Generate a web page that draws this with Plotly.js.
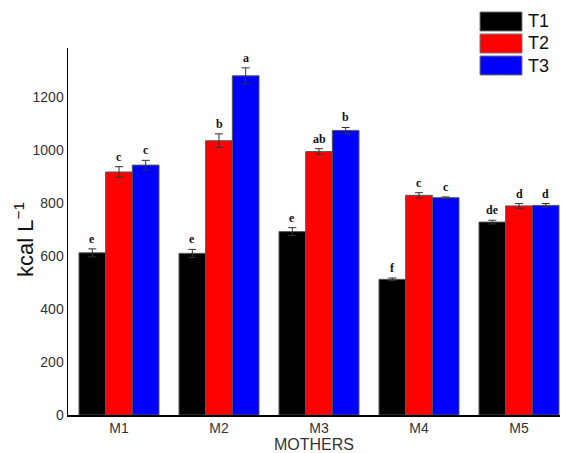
<!DOCTYPE html>
<html>
<head>
<meta charset="utf-8">
<script src="https://cdn.plot.ly/plotly-3.0.1.min.js"></script>
<style>html,body{margin:0;padding:0;background:#fff;}#chart{width:566px;height:453px;}</style>
</head>
<body>
<div id="chart"></div>
<script>
const categories = ["M1", "M2", "M3", "M4", "M5"];
const seriesNames = ["T1", "T2", "T3"];
const t1Values = [612, 610, 692, 512, 728];
const t2Values = [917, 1035, 994, 829, 789];
const t3Values = [943, 1280, 1074, 820, 791];
const t1Errors = [15, 15, 15, 5, 7];
const t2Errors = [20, 26, 11, 10, 9];
const t3Errors = [18, 30, 11, 3, 7];
const t1Letters = ["e", "e", "e", "f", "de"];
const t2Letters = ["c", "b", "ab", "c", "d"];
const t3Letters = ["c", "a", "b", "c", "d"];
const yTicks = [0, 200, 400, 600, 800, 1000, 1200];

const colors = ["#000000", "#ff0000", "#0000ff"];
const values = [t1Values, t2Values, t3Values];
const errors = [t1Errors, t2Errors, t3Errors];
const letters = [t1Letters, t2Letters, t3Letters];

const traces = values.map((v, i) => ({
  type: "bar",
  name: seriesNames[i],
  x: categories,
  y: v,
  marker: {color: colors[i], line: {color: "#555555", width: 1}},
  error_y: {type: "data", array: errors[i], visible: true, color: "#333333", thickness: 1, width: 4},
  showlegend: false,
  hoverinfo: "skip"
}));

const barPx = 80 / 3;
const annotations = [];
letters.forEach((ls, i) => {
  ls.forEach((l, j) => {
    annotations.push({
      x: categories[j], y: values[i][j] + errors[i][j], xref: "x", yref: "y",
      text: "<b>" + l + "</b>", showarrow: false, xshift: (i - 1) * barPx,
      yanchor: "bottom", yshift: 1,
      font: {family: "Liberation Serif, Times New Roman, serif", size: 12, color: "#111"}
    });
  });
});

// legend swatches
const shapes = [];
seriesNames.forEach((n, i) => {
  const top = 12 + i * 22;
  shapes.push({
    type: "rect", xref: "paper", yref: "paper",
    x0: (480 - 68) / 492, x1: (522 - 68) / 492,
    y0: (415 - (top + 19)) / 367, y1: (415 - top) / 367,
    fillcolor: colors[i], line: {color: "#777", width: 1}
  });
  annotations.push({
    xref: "paper", yref: "paper", x: (526 - 68) / 492, y: (415 - (top + 9.5)) / 367,
    text: n, showarrow: false, xanchor: "left", yanchor: "middle",
    font: {family: "Liberation Sans, Arial, sans-serif", size: 18, color: "#111"}
  });
});

// y-axis title placed as rotated text
annotations.push({
  xref: "paper", yref: "paper", x: (24 - 68) / 492, y: (415 - 240) / 367,
  text: "kcal L<sup>\u22121</sup>", showarrow: false, textangle: -90,
  xanchor: "center", yanchor: "middle",
  font: {family: "Liberation Sans, Arial, sans-serif", size: 22, color: "#111"}
});

const layout = {
  width: 566, height: 453,
  margin: {l: 68, r: 6, t: 48, b: 38, pad: 0},
  paper_bgcolor: "#fff", plot_bgcolor: "#fff",
  barmode: "group", bargap: 0.2, bargroupgap: 0,
  font: {family: "Liberation Sans, Arial, sans-serif", color: "#333"},
  xaxis: {
    type: "category", range: [-0.51, 4.41],
    showline: true, linecolor: "#000", linewidth: 1.5,
    ticks: "", showgrid: false, zeroline: false,
    tickfont: {size: 14, color: "#333"},
    title: {text: "MOTHERS", font: {size: 16, color: "#333"}, standoff: 4}
  },
  yaxis: {
    range: [0, 1385], tickvals: yTicks,
    showline: true, linecolor: "#000", linewidth: 1.5,
    ticks: "", showgrid: false, zeroline: false,
    tickfont: {size: 14, color: "#333"}, ticklabelstandoff: 0
  },
  annotations: annotations,
  shapes: shapes
};

Plotly.newPlot("chart", traces, layout, {displayModeBar: false, staticPlot: true});
</script>
</body>
</html>
